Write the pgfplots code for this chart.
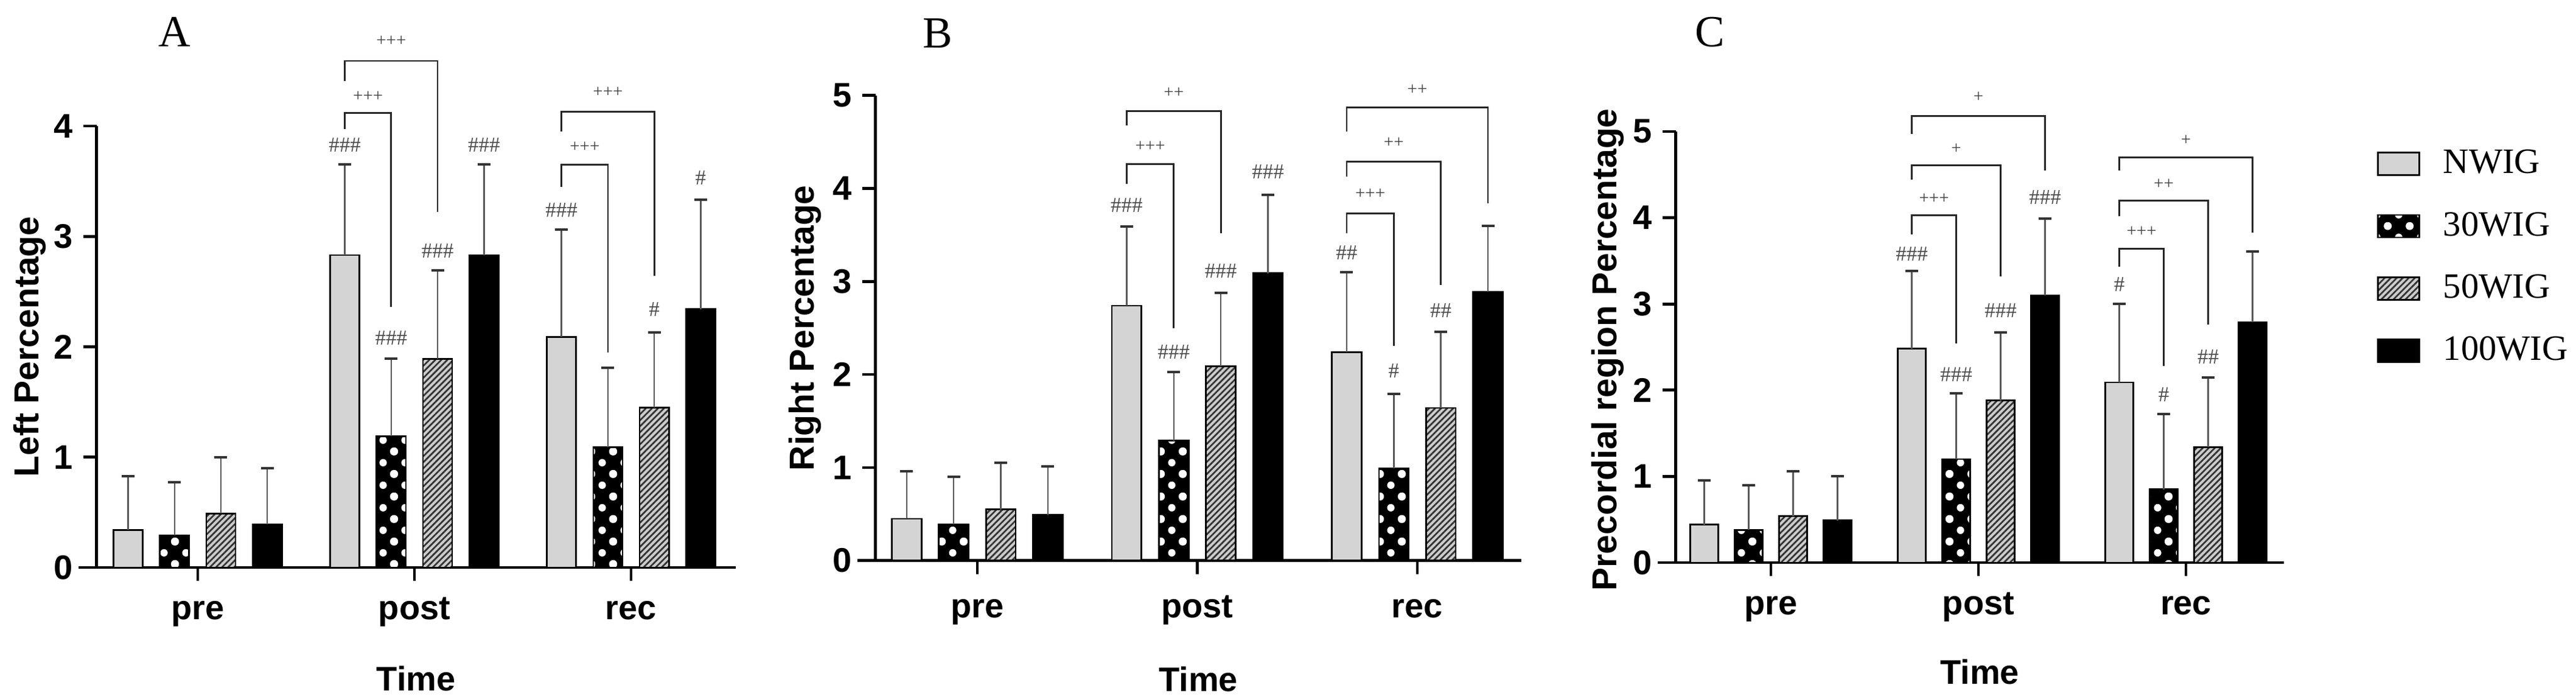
\documentclass[border=0pt]{standalone}
\usepackage{fontspec}
\setmainfont{Liberation Sans}
\newfontfamily\serif{Liberation Serif}
\usepackage{pgfplots}
\pgfplotsset{compat=1.18}
\usetikzlibrary{patterns,patterns.meta}

\pgfdeclarepatternformonly{wdots}{\pgfpointorigin}{\pgfpoint{7.2pt}{7.4pt}}{\pgfpoint{7.2pt}{7.4pt}}{%
  \pgfpathcircle{\pgfpoint{3.6pt}{3.7pt}}{1.25pt}%
  \pgfpathcircle{\pgfpoint{0pt}{0pt}}{1.25pt}%
  \pgfpathcircle{\pgfpoint{7.2pt}{0pt}}{1.25pt}%
  \pgfpathcircle{\pgfpoint{0pt}{7.4pt}}{1.25pt}%
  \pgfpathcircle{\pgfpoint{7.2pt}{7.4pt}}{1.25pt}%
  \pgfusepath{fill}%
}

\newcommand{\sanslab}{\bfseries\fontsize{11.2}{13}\selectfont}
\newcommand{\brk}[5]{\draw[brkst] (axis cs:#1,#4) -- (axis cs:#1,#3) -- (axis cs:#2,#3) -- (axis cs:#2,#5);}
\newcommand{\pl}[3]{\node[plst] at (axis cs:#1,#2) {#3};}
\newcommand{\hs}[3]{\node[hsst] at (axis cs:#1,#2) {#3};}

\tikzset{
 brkst/.style={line width=0.55pt, black!85},
 plst/.style={font=\serif\fontsize{5.8}{6}\selectfont, text=black!75, inner sep=0pt},
 hsst/.style={font=\serif\fontsize{7}{8}\selectfont, text=black!70, inner sep=0pt},
}

\pgfplotsset{
 panel/.style={
   scale only axis, anchor=south west, clip=false,
   axis x line*=bottom, axis y line*=left,
   axis line style={line width=0.95pt, black},
   tick align=outside, major tick length=4.4pt,
   tick style={line width=0.95pt, black},
   xtick={0,1,2}, xticklabels={pre,post,rec},
   ymin=0,
   /pgf/number format/assume math mode=true,
   tick label style={font=\sanslab},
   yticklabel style={inner sep=0pt, xshift=-3.2pt},
   xticklabel style={anchor=base, inner sep=0pt, yshift=-12.8pt},
   xlabel={Time},
   xlabel style={font=\sanslab, at={(axis description cs:0.5,0)}, anchor=base, yshift=-40.6pt},
   ylabel style={font=\bfseries\fontsize{11.4}{13}\selectfont, anchor=base},
   ybar, bar width=0.135,
   error bars/y dir=plus, error bars/y explicit,
   error bars/error mark=-,
   error bars/error bar style={line width=0.5pt, black!65},
   error bars/error mark options={rotate=90, line width=0.8pt, black!80, mark size=2.1pt},
 },
 nw/.style={draw=black, line width=0.55pt, fill=black!17, bar shift=-0.321},
 tw/.style={draw=black, line width=0.55pt, preaction={fill=black}, pattern=wdots, pattern color=white, bar shift=-0.107},
 fw/.style={draw=black, line width=0.55pt, preaction={fill=black!20}, pattern={Lines[angle=45,distance=1.4pt,line width=0.55pt]}, pattern color=black!80, bar shift=0.107},
 hw/.style={draw=black, line width=0.55pt, fill=black, bar shift=0.321},
}

\begin{document}
\begin{tikzpicture}
\useasboundingbox (0,0) rectangle (846.6pt,229.6pt);

% ---------------- A ----------------
\begin{axis}[panel, at={(31.72pt,43.2pt)}, width=210.08pt, height=145pt,
  xmin=-0.467, xmax=2.483, ymax=4, ytick={0,1,2,3,4},
  ylabel={Left Percentage}, ylabel style={at={(axis description cs:-0.091,0.5)}}]
\addplot[nw] coordinates {(0,0.34) +- (0,0.49) (1,2.83) +- (0,0.82) (2,2.09) +- (0,0.97)};
\addplot[tw] coordinates {(0,0.29) +- (0,0.48) (1,1.19) +- (0,0.70) (2,1.09) +- (0,0.72)};
\addplot[fw] coordinates {(0,0.49) +- (0,0.51) (1,1.89) +- (0,0.80) (2,1.45) +- (0,0.68)};
\addplot[hw] coordinates {(0,0.39) +- (0,0.51) (1,2.83) +- (0,0.82) (2,2.34) +- (0,0.99)};
\draw[line width=0.95pt] ([xshift=-6pt]axis cs:-0.467,0) -- (axis cs:-0.467,0);
\hs{0.679}{3.83}{\#\#\#}\hs{0.893}{2.08}{\#\#\#}\hs{1.107}{2.87}{\#\#\#}\hs{1.321}{3.83}{\#\#\#}
\brk{0.679}{0.893}{4.12}{3.97}{2.36}\pl{0.786}{4.27}{+++}
\brk{0.679}{1.107}{4.59}{4.41}{3.22}\pl{0.893}{4.77}{+++}
\hs{1.679}{3.24}{\#\#\#}\hs{2.107}{2.34}{\#}\hs{2.321}{3.53}{\#}
\brk{1.679}{1.893}{3.65}{3.45}{1.95}\pl{1.786}{3.81}{+++}
\brk{1.679}{2.107}{4.13}{3.95}{2.64}\pl{1.893}{4.31}{+++}
\end{axis}

% ---------------- B ----------------
\begin{axis}[panel, at={(287.7pt,45.46pt)}, width=212.3pt, height=152.8pt,
  xmin=-0.463, xmax=2.473, ymax=5, ytick={0,1,2,3,4,5},
  xticklabel style={yshift=-1.6pt}, xlabel style={yshift=-2.4pt},
  ylabel={Right Percentage}, ylabel style={at={(axis description cs:-0.0952,0.5)}}]
\addplot[nw] coordinates {(0,0.45) +- (0,0.51) (1,2.74) +- (0,0.85) (2,2.24) +- (0,0.86)};
\addplot[tw] coordinates {(0,0.39) +- (0,0.51) (1,1.29) +- (0,0.74) (2,0.99) +- (0,0.80)};
\addplot[fw] coordinates {(0,0.55) +- (0,0.50) (1,2.09) +- (0,0.79) (2,1.64) +- (0,0.82)};
\addplot[hw] coordinates {(0,0.49) +- (0,0.52) (1,3.09) +- (0,0.84) (2,2.89) +- (0,0.71)};
\draw[line width=0.95pt] ([xshift=-6pt]axis cs:-0.463,0) -- (axis cs:-0.463,0);
\hs{0.679}{3.82}{\#\#\#}\hs{0.893}{2.24}{\#\#\#}\hs{1.107}{3.11}{\#\#\#}\hs{1.321}{4.18}{\#\#\#}
\brk{0.679}{0.893}{4.26}{4.05}{2.50}\pl{0.786}{4.45}{+++}
\brk{0.679}{1.107}{4.83}{4.68}{3.52}\pl{0.893}{5.03}{++}
\hs{1.679}{3.31}{\#\#}\hs{1.893}{2.04}{\#}\hs{2.107}{2.69}{\#\#}
\brk{1.679}{1.893}{3.73}{3.52}{2.31}\pl{1.786}{3.94}{+++}
\brk{1.679}{2.107}{4.29}{4.13}{2.96}\pl{1.893}{4.49}{++}
\brk{1.679}{2.321}{4.87}{4.61}{3.84}\pl{2.0}{5.06}{++}
\end{axis}

% ---------------- C ----------------
\begin{axis}[panel, at={(550.7pt,44.8pt)}, width=199.9pt, height=141.6pt,
  xmin=-0.459, xmax=2.472, ymax=5, ytick={0,1,2,3,4,5},
  xlabel style={yshift=0.6pt},
  ylabel={Precordial region Percentage}, ylabel style={at={(axis description cs:-0.097,0.494)}},
  legend style={at={(axis description cs:1.1531,0.9576)}, anchor=north west, draw=none, fill=none,
     inner sep=0pt, outer sep=0pt, row sep=11.2pt, font=\serif\fontsize{11.7}{13}\selectfont,
     nodes={inner sep=0pt}, /tikz/every odd column/.append style={column sep=7.6pt}},
  legend cell align=left,
  every axis plot post/.append style={legend image code/.code={\draw[##1, line width=0.55pt] (0pt,-3.7pt) rectangle (13.6pt,3.7pt);}}]
\addplot[nw] coordinates {(0,0.44) +- (0,0.51) (1,2.48) +- (0,0.90) (2,2.09) +- (0,0.91)};
\addlegendentry{NWIG}
\addplot[tw] coordinates {(0,0.38) +- (0,0.52) (1,1.20) +- (0,0.76) (2,0.85) +- (0,0.87)};
\addlegendentry{30WIG}
\addplot[fw] coordinates {(0,0.54) +- (0,0.52) (1,1.88) +- (0,0.79) (2,1.34) +- (0,0.81)};
\addlegendentry{50WIG}
\addplot[hw] coordinates {(0,0.49) +- (0,0.51) (1,3.10) +- (0,0.89) (2,2.79) +- (0,0.82)};
\addlegendentry{100WIG}
\draw[line width=0.95pt] ([xshift=-6pt]axis cs:-0.459,0) -- (axis cs:-0.459,0);
\hs{0.679}{3.58}{\#\#\#}\hs{0.893}{2.18}{\#\#\#}\hs{1.107}{2.92}{\#\#\#}\hs{1.321}{4.24}{\#\#\#}
\brk{0.679}{0.893}{4.03}{3.81}{2.54}\pl{0.786}{4.22}{+++}
\brk{0.679}{1.107}{4.61}{4.44}{3.32}\pl{0.893}{4.80}{+}
\brk{0.679}{1.321}{5.18}{4.97}{4.55}\pl{1.0}{5.40}{+}
\hs{1.679}{3.23}{\#}\hs{1.893}{1.95}{\#}\hs{2.107}{2.39}{\#\#}
\brk{1.679}{1.893}{3.64}{3.43}{2.28}\pl{1.786}{3.84}{+++}
\brk{1.679}{2.107}{4.20}{4.02}{2.76}\pl{1.893}{4.39}{++}
\brk{1.679}{2.321}{4.70}{4.55}{3.83}\pl{2.0}{4.90}{+}
\end{axis}

\node[font=\serif\fontsize{14.6}{16}\selectfont, anchor=base] at (57.4pt,214.2pt) {A};
\node[font=\serif\fontsize{14.6}{16}\selectfont, anchor=base] at (308.2pt,213.8pt) {B};
\node[font=\serif\fontsize{14.6}{16}\selectfont, anchor=base] at (562pt,214.2pt) {C};
\end{tikzpicture}
\end{document}
